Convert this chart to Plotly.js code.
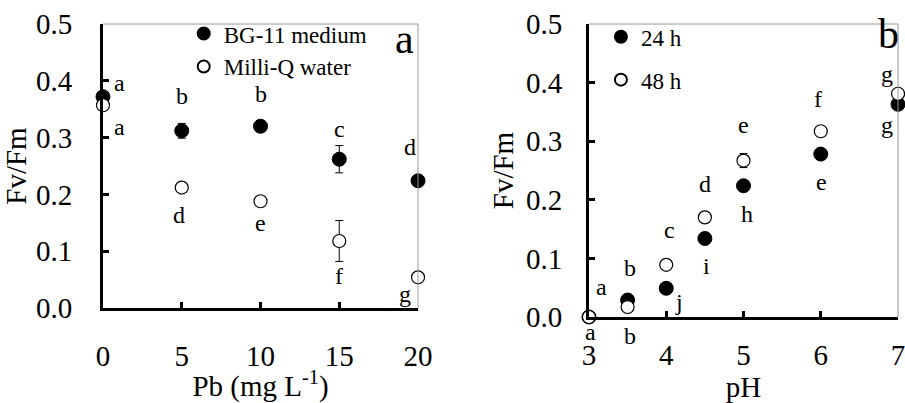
<!DOCTYPE html>
<html><head><meta charset="utf-8">
<script src="https://cdn.plot.ly/plotly-3.0.1.min.js"></script>
<style>
html,body{margin:0;padding:0;background:#fff}
#chart{width:905px;height:403px}
</style>
</head><body><div id="chart"></div>
<script>
// ---- Panel a data ----
const pbConc = [0, 5, 10, 15, 20];
const bg11 = [0.372, 0.312, 0.320, 0.262, 0.224];
const bg11Err = [0.006, 0.013, 0.010, 0.024, 0.004];
const milliQ = [0.357, 0.212, 0.188, 0.118, 0.054];
const milliQErr = [0.004, 0.004, 0.004, 0.036, 0.003];
const bg11Letters = ['a', 'b', 'b', 'c', 'd'];
const milliQLetters = ['a', 'd', 'e', 'f', 'g'];

// ---- Panel b data ----
const pH = [3, 3.5, 4, 4.5, 5, 6, 7];
const h24 = [0.0, 0.029, 0.049, 0.134, 0.224, 0.278, 0.363];
const h24Err = [0, 0.004, 0.004, 0.005, 0.005, 0.009, 0.005];
const h48 = [0.0, 0.017, 0.089, 0.170, 0.267, 0.317, 0.381];
const h48Err = [0, 0.003, 0.004, 0.004, 0.012, 0.004, 0.004];
const h24Letters = ['a', 'b', 'j', 'i', 'h', 'e', 'g'];
const h48Letters = ['a', 'b', 'c', 'd', 'e', 'f', 'g'];

// label offsets in px (placement only)
const bg11Shift = [[17,14],[0,35],[0,32],[0,30],[-8,34]];
const milliQShift = [[17,-22],[-3,-27],[0,-22],[0,-35],[-13,-17]];
const h24Shift = [[13,30],[2,32],[13,-14],[2,-28],[3,-28],[1,-28],[-11,-21]];
const h48Shift = [[2,-15],[2,-29],[3,35],[0,33],[0,36],[-3,32],[-11,20]];

const FONT = '"Liberation Serif", "Times New Roman", serif';
const filled = {color:'#000', size:14, line:{color:'#000', width:1}};
const open = {color:'#fff', size:13, line:{color:'#000', width:1.2}};
const eb = (arr) => ({type:'data', array:arr, visible:true, color:'#000', thickness:1, width:4});

const traces = [
  {x:pbConc, y:bg11, error_y:eb(bg11Err), mode:'markers', type:'scatter', name:'BG-11 medium', marker:filled, xaxis:'x', yaxis:'y', cliponaxis:false, legend:'legend'},
  {x:pbConc, y:milliQ, error_y:eb(milliQErr), mode:'markers', type:'scatter', name:'Milli-Q water', marker:open, xaxis:'x', yaxis:'y', cliponaxis:false, legend:'legend'},
  {x:pH, y:h24, error_y:eb(h24Err), mode:'markers', type:'scatter', name:'24 h', marker:filled, xaxis:'x2', yaxis:'y2', cliponaxis:false, legend:'legend2', legendgroup:'g1'},
  {x:pH, y:h48, error_y:eb(h48Err), mode:'markers', type:'scatter', name:'48 h', marker:open, xaxis:'x2', yaxis:'y2', cliponaxis:false, legend:'legend2', legendgroup:'g2'}
];

const annotations = [];
function addLetters(xs, ys, letters, shifts, xr, yr) {
  xs.forEach((xv, i) => {
    annotations.push({x:xv, y:ys[i], xref:xr, yref:yr, text:letters[i], showarrow:false,
      xshift:shifts[i][0], yshift:shifts[i][1], font:{family:FONT, size:24, color:'#000'}});
  });
}
addLetters(pbConc, bg11, bg11Letters, bg11Shift, 'x', 'y');
addLetters(pbConc, milliQ, milliQLetters, milliQShift, 'x', 'y');
addLetters(pH, h24, h24Letters, h24Shift, 'x2', 'y2');
addLetters(pH, h48, h48Letters, h48Shift, 'x2', 'y2');
annotations.push({xref:'x domain', yref:'y domain', x:0.995, y:1.035, xanchor:'right', yanchor:'top', text:'a', showarrow:false, font:{family:FONT, size:42, color:'#000'}});
annotations.push({xref:'x2 domain', yref:'y2 domain', x:1.01, y:1.05, xanchor:'right', yanchor:'top', text:'b', showarrow:false, font:{family:FONT, size:42, color:'#000'}});

const axBase = {showline:true, linewidth:3, linecolor:'#000', ticks:'inside', ticklen:6, tickwidth:3, tickcolor:'#000',
  showgrid:false, zeroline:false, ticklabeloverflow:'allow', tickfont:{family:FONT, size:29, color:'#000'}};

const layout = {
  width:905, height:403, margin:{l:0, r:0, t:0, b:0},
  paper_bgcolor:'#fff', plot_bgcolor:'#fff',
  font:{family:FONT, color:'#000'},
  xaxis: Object.assign({}, axBase, {domain:[0.1138, 0.4619], range:[0, 20], tickvals:[0,5,10,15,20], anchor:'y', ticklabelstandoff:20,
    title:{text:'Pb (mg L<sup>-1</sup>)', font:{family:FONT, size:29, color:'#000'}, standoff:13}}),
  yaxis: Object.assign({}, axBase, {domain:[0.2357, 0.9404], range:[0, 0.5], tickvals:[0,0.1,0.2,0.3,0.4,0.5], tickformat:'.1f', anchor:'x', ticklabelstandoff:22,
    title:{text:'Fv/Fm', font:{family:FONT, size:29, color:'#000'}, standoff:2}}),
  xaxis2: Object.assign({}, axBase, {domain:[0.6508, 0.9923], range:[3, 7], tickvals:[3,4,5,6,7], anchor:'y2', ticklabelstandoff:10,
    title:{text:'pH', font:{family:FONT, size:29, color:'#000'}, standoff:3}}),
  yaxis2: Object.assign({}, axBase, {domain:[0.2134, 0.9404], range:[0, 0.5], tickvals:[0,0.1,0.2,0.3,0.4,0.5], tickformat:'.1f', anchor:'x2', ticklabelstandoff:18,
    title:{text:'Fv/Fm', font:{family:FONT, size:29, color:'#000'}, standoff:4}}),
  legend:{x:0.203, y:0.97, xanchor:'left', yanchor:'top', bgcolor:'rgba(0,0,0,0)', font:{family:FONT, size:23, color:'#000'}, itemsizing:'constant', itemwidth:30, tracegroupgap:0},
  legend2:{x:0.664, y:0.962, xanchor:'left', yanchor:'top', bgcolor:'rgba(0,0,0,0)', font:{family:FONT, size:23, color:'#000'}, itemsizing:'constant', itemwidth:30, traceorder:'grouped', tracegroupgap:10},
  shapes:[
    {type:'line', xref:'x domain', yref:'y domain', x0:0, x1:1, y0:1, y1:1, line:{color:'#999', width:1}},
    {type:'line', xref:'x domain', yref:'y domain', x0:1, x1:1, y0:0, y1:1, line:{color:'#999', width:1}},
    {type:'line', xref:'x2 domain', yref:'y2 domain', x0:0, x1:1, y0:1, y1:1, line:{color:'#999', width:1}},
    {type:'line', xref:'x2 domain', yref:'y2 domain', x0:1, x1:1, y0:0, y1:1, line:{color:'#999', width:1}}
  ],
  annotations:annotations,
  showlegend:true
};

Plotly.newPlot('chart', traces, layout, {staticPlot:true, displayModeBar:false});
</script>
</body></html>
